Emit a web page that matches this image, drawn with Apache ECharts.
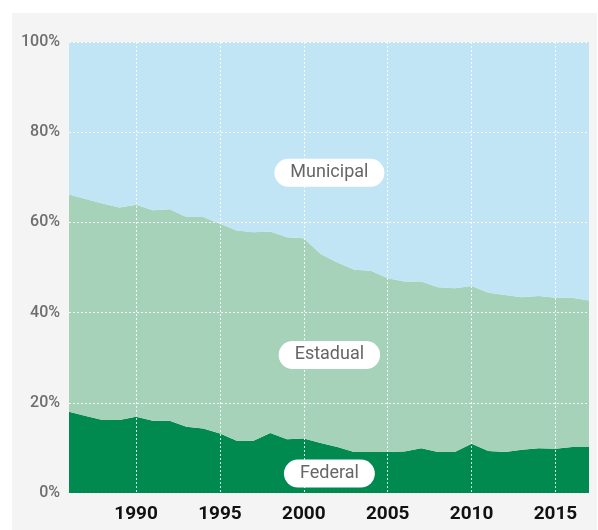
<!DOCTYPE html>
<html>
<head>
<meta charset="utf-8">
<script src="https://cdn.jsdelivr.net/npm/echarts@6/dist/echarts.min.js"></script>
<style>
  html, body { margin: 0; padding: 0; background: #fff; }
  #chart { width: 598px; height: 530px; }
</style>
</head>
<body>
<div id="chart"></div>
<script>
// anos
const years = []
for (let y = 1986; y <= 2017; y++) years.push(String(y))

// participação (%) por esfera
const federal = [18.0, 17.1, 16.2, 16.2, 16.9, 16.0, 16.0, 14.7, 14.3, 13.2, 11.6, 11.6, 13.3, 11.9, 12.1, 11.1,
  10.2, 9.1, 9.1, 9.1, 9.2, 9.9, 9.1, 9.1, 10.9, 9.3, 9.1, 9.6, 9.9, 9.8, 10.2, 10.2]
const estadual = [48.2, 48.1, 48.0, 47.1, 47.0, 46.7, 46.9, 46.5, 46.9, 46.5, 46.6, 46.2, 44.7, 44.8, 44.4, 41.9,
  40.9, 40.4, 40.2, 38.5, 37.7, 37.0, 36.5, 36.3, 35.0, 35.1, 34.8, 33.8, 33.8, 33.5, 33.1, 32.5]
const municipal = [33.8, 34.8, 35.8, 36.7, 36.1, 37.3, 37.1, 38.8, 38.8, 40.3, 41.8, 42.2, 42.0, 43.3, 43.5, 47.0,
  48.9, 50.5, 50.7, 52.4, 53.1, 53.1, 54.4, 54.6, 54.1, 55.6, 56.1, 56.6, 56.3, 56.7, 56.7, 57.3]

// rótulos das áreas
const labelNames = ['Municipal', 'Estadual', 'Federal']
const labelYear = '2002'
const labelValues = [71.0, 30.6, 4.3]

const chart = echarts.init(document.getElementById('chart'))

const areaSeries = (name, data, color) => ({
  name,
  type: 'line',
  stack: 'total',
  data,
  showSymbol: false,
  lineStyle: { width: 0 },
  areaStyle: { color, opacity: 1 },
  itemStyle: { color },
  z: 2
})

const option = {
  animation: false,
  backgroundColor: '#fff',
  graphic: [{
    type: 'rect',
    z: -10,
    shape: { x: 12, y: 13, width: 585, height: 517 },
    style: { fill: '#f4f4f4' }
  }],
  grid: { left: 69, right: 9, top: 42, bottom: 37 },
  xAxis: {
    type: 'category',
    data: years,
    boundaryGap: false,
    z: 10,
    axisLine: { show: false },
    axisTick: { show: false },
    axisLabel: {
      interval: (i, v) => Number(v) % 5 === 0,
      margin: 12,
      color: '#111',
      fontSize: 19,
      fontWeight: 'bold',
      fontFamily: 'Roboto, sans-serif'
    },
    splitLine: {
      show: true,
      interval: (i, v) => Number(v) % 5 === 0,
      lineStyle: { color: 'rgba(255,255,255,0.85)', type: [2, 2], width: 1 }
    }
  },
  yAxis: {
    type: 'value',
    min: 0,
    max: 100,
    interval: 20,
    z: 10,
    axisLine: { show: false },
    axisTick: { show: false },
    axisLabel: {
      formatter: '{value}%',
      margin: 9,
      color: '#6e6e6e',
      fontSize: 16,
      fontWeight: 500,
      fontFamily: 'Roboto, sans-serif'
    },
    splitLine: {
      lineStyle: { color: 'rgba(255,255,255,0.85)', type: [2, 2], width: 1 }
    }
  },
  series: [
    areaSeries('Federal', federal, '#008a50'),
    areaSeries('Estadual', estadual, '#a6d2ba'),
    areaSeries('Municipal', municipal, '#c2e5f5'),
    {
      type: 'scatter',
      symbolSize: 0,
      z: 20,
      itemStyle: { opacity: 1 },
      data: labelNames.map((n, i) => ({ name: n, value: [labelYear, labelValues[i]] })),
      label: {
        show: true,
        position: 'inside',
        offset: [-8, 0],
        formatter: (p) => p.name,
        color: '#666',
        fontSize: 18,
        fontFamily: 'Roboto, sans-serif',
        backgroundColor: '#fff',
        borderRadius: 15,
        padding: [5, 16, 5, 16]
      }
    }
  ]
}

chart.setOption(option)
</script>
</body>
</html>
